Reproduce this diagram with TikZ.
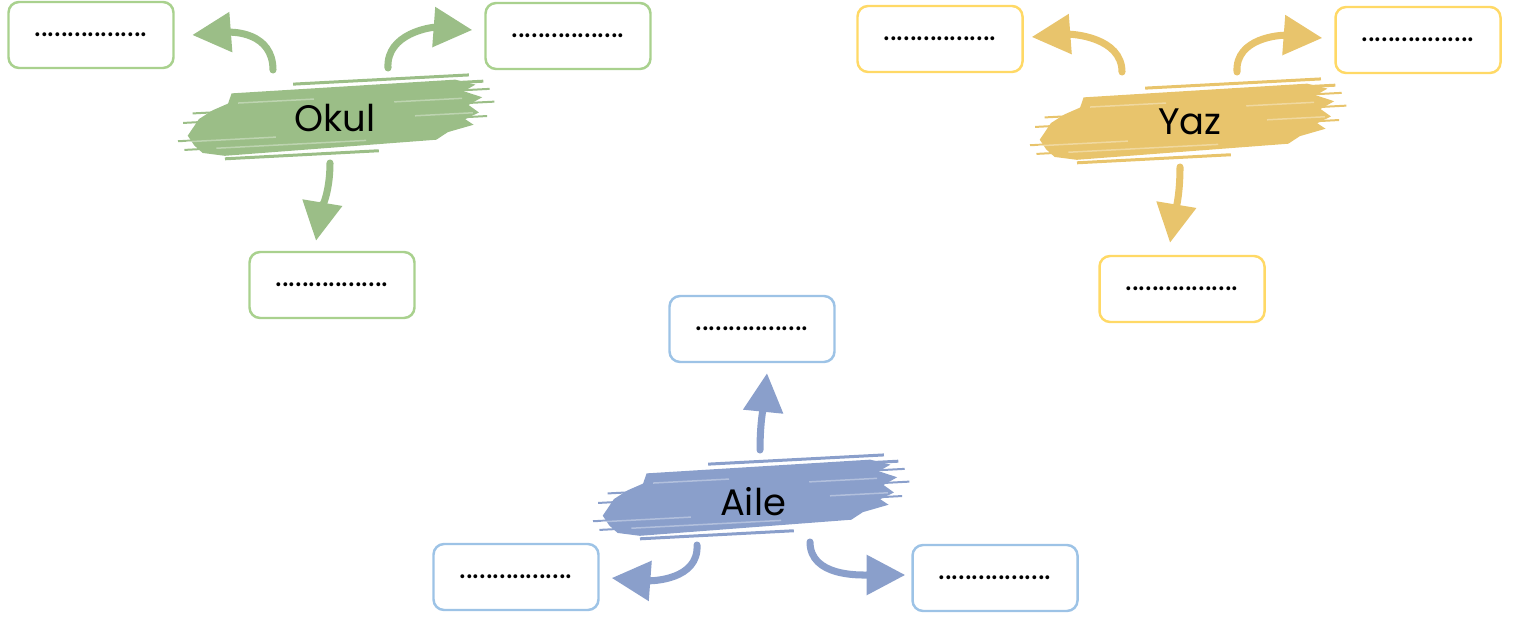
\documentclass[tikz,border=0pt]{standalone}
\usepackage{fontspec}
\setmainfont{Poppins}
\usetikzlibrary{arrows.meta}
\definecolor{okulc}{HTML}{9BBE87}
\definecolor{okulbox}{HTML}{A9D18E}
\definecolor{yazc}{HTML}{E8C46C}
\definecolor{yazbox}{HTML}{FFD966}
\definecolor{ailec}{HTML}{8A9FCB}
\definecolor{ailebox}{HTML}{9DC3E6}

\begin{document}
\begin{tikzpicture}[x=0.1mm, y=-0.1mm,
  blank/.style={draw=#1, line width=0.7pt, rounded corners=3pt, fill=white, minimum width=16.5mm, minimum height=6.6mm, inner sep=0pt, font=\fontsize{9}{10}\selectfont},
  topic/.style={minimum width=25mm, minimum height=7mm, inner sep=0pt, font=\fontsize{10.5}{12}\selectfont},
  link/.style={draw=#1, line width=2pt, line cap=round, -{Triangle[length=11pt,width=11pt]}}]

\useasboundingbox (0,0) rectangle (1515,621);

% brush strokes behind the topics
\foreach \col/\cx/\cy in {okulc/335/118, yazc/1187/122, ailec/750/498}
{
\begin{scope}[shift={(\cx,\cy)}, rotate=3]
\fill[\col] (-102,-30) -- (122,-32) -- (142,-26) -- (130,-20) -- (148,-13) -- (134,-6) -- (144,2) -- (130,8)
  -- (138,14) -- (112,20) -- (100,27) -- (-112,32) -- (-134,28) -- (-142,20) -- (-148,10) -- (-142,2)
  -- (-136,-6) -- (-122,-14) -- (-106,-20) -- cycle;
\foreach \y/\a/\b/\w in {-36/-40/136/3, -29/110/150/3, -21/126/156/2, -8/130/160/2, 6/124/152/2,
                         35/-112/42/3, 24/-152/-118/2, 15/-158/-132/2, -3/-152/-126/2, -12/-142/-112/2}
  {\draw[\col, line width=\w*0.1mm] (\a,\y) -- (\b,\y);}
\foreach \y/\a/\b in {-13/60/128, 2/80/138, 16/-150/-60, 24/-120/30, -20/-96/-20}
  {\draw[white, opacity=.35, line width=0.15mm] (\a,\y) -- (\b,\y);}
\end{scope}
}

\node[topic] (okul) at (335,118) {Okul};
\node[topic] (yaz) at (1190,122) {Yaz};
\node[topic] (aile) at (753,502) {Aile};

\node[blank=okulbox] (okul1) at (91,35) {.................};
\node[blank=okulbox] (okul2) at (568,36) {.................};
\node[blank=okulbox] (okul3) at (332,285) {.................};
%%%%%%%%%%%%
\node[blank=yazbox] (yaz1) at (940,39) {.................};
\node[blank=yazbox] (yaz2) at (1418,40) {.................};
\node[blank=yazbox] (yaz3) at (1182,289) {.................};
%%%%%%%%%%%%
\node[blank=ailebox] (aile1) at (752,329) {.................};
\node[blank=ailebox] (aile2) at (516,577) {.................};
\node[blank=ailebox] (aile3) at (995,578) {.................};

% arrows
\draw[link=okulc] ([shift={(-62,-48)}]okul.center) .. controls +(0,-38) and +(40,-3) .. ([xshift=5]okul1.east);
\draw[link=okulc] ([shift={(53,-50)}]okul.center) .. controls +(-2,-35) and +(-40,-3) .. ([shift={(-12,-6)}]okul2.west);
\draw[link=okulc] ([shift={(-5,45)}]okul.center) .. controls +(0,30) and +(5,-30) .. ([shift={(-16,-10)}]okul3.north);
%%%%%%%%%%%%
\draw[link=yazc] ([shift={(-68,-50)}]yaz.center) .. controls +(0,-35) and +(40,-3) .. ([shift={(8,-2)}]yaz1.east);
\draw[link=yazc] ([shift={(47,-50)}]yaz.center) .. controls +(-2,-35) and +(-40,-3) .. ([shift={(-12,-2)}]yaz2.west);
\draw[link=yazc] ([shift={(-10,45)}]yaz.center) .. controls +(0,30) and +(5,-30) .. ([shift={(-12,-12)}]yaz3.north);
%%%%%%%%%%%%
\draw[link=ailec] ([shift={(7,-52)}]aile.center) .. controls +(0,-30) and +(-3,30) .. ([shift={(15,10)}]aile1.south);
\draw[link=ailec] ([shift={(-56,43)}]aile.center) .. controls +(2,35) and +(40,3) .. ([shift={(12,1)}]aile2.east);
\draw[link=ailec] ([shift={(57,40)}]aile.center) .. controls +(0,35) and +(-45,0) .. ([shift={(-6,-3)}]aile3.west);
\end{tikzpicture}
\end{document}
